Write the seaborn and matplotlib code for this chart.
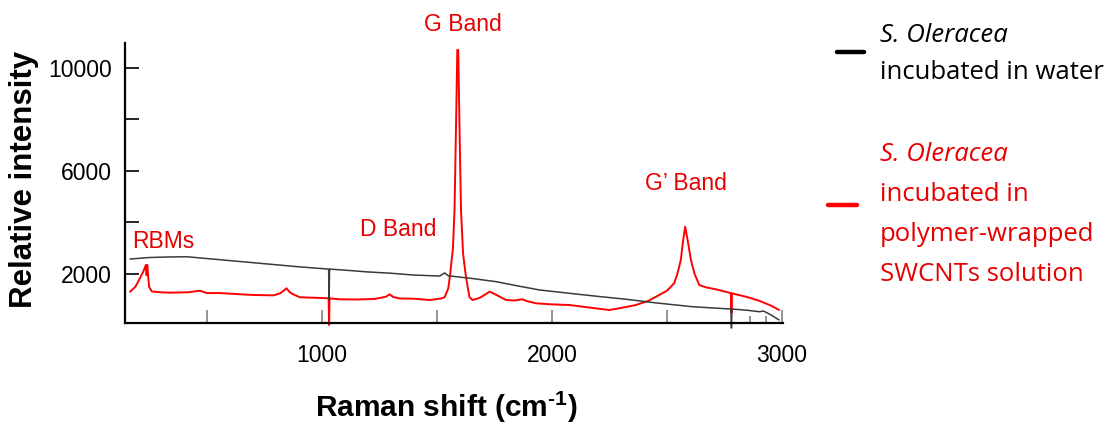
import matplotlib
matplotlib.use('Agg')
import matplotlib.pyplot as plt
from matplotlib.lines import Line2D
import seaborn as sns

# === Spectra (Raman shift in cm-1, relative intensity) ===
water_shift = [167, 250, 330, 414, 500, 600, 701, 800, 900, 1000, 1030, 1032, 1034,
               1100, 1200, 1300, 1400, 1512, 1534, 1550, 1650, 1759, 1850, 1946, 2076,
               2200, 2322, 2450, 2610, 2700, 2778, 2780, 2782, 2850, 2900, 2920, 2950, 2987]
water_int = [2580, 2640, 2660, 2670, 2600, 2520, 2440, 2360, 2280, 2210, 2190, 990, 2190,
             2150, 2080, 2030, 1960, 1920, 2040, 1930, 1830, 1700, 1540, 1380, 1250,
             1130, 1020, 880, 730, 680, 640, -100, 640, 590, 536, 560, 420, 214]

swcnt_shift = [167, 190, 210, 225, 236, 239, 242, 250, 262, 300, 341, 420, 471, 500, 557,
               650, 701, 790, 820, 847, 860, 874, 905, 960, 1030, 1032, 1034, 1078, 1150,
               1230, 1280, 1295, 1310, 1338, 1400, 1469, 1520, 1534, 1550, 1558, 1570,
               1577, 1584, 1589, 1593, 1598, 1605, 1614, 1625, 1635, 1642, 1655, 1685,
               1710, 1729, 1745, 1759, 1801, 1837, 1872, 1890, 1931, 2000, 2076, 2160,
               2249, 2300, 2365, 2420, 2466, 2500, 2531, 2545, 2560, 2570, 2579, 2590,
               2604, 2620, 2640, 2670, 2712, 2760, 2778, 2780, 2782, 2850, 2900, 2950, 2987]
swcnt_int = [1310, 1500, 1830, 2100, 2350, 1950, 2350, 1500, 1320, 1290, 1275, 1290, 1350,
             1260, 1260, 1210, 1185, 1170, 1250, 1445, 1300, 1220, 1095, 1080, 1056, 20,
             1056, 1018, 1010, 1030, 1120, 1212, 1110, 1049, 1040, 990, 1050, 1100, 1450,
             2000, 3000, 4500, 8000, 10700, 10700, 8000, 4500, 2800, 2000, 1450, 1100, 990,
             1068, 1200, 1313, 1250, 1185, 990, 971, 1018, 950, 862, 820, 796, 700, 602,
             680, 796, 960, 1185, 1350, 1639, 2000, 2544, 3300, 3837, 3300, 2544, 2000,
             1573, 1480, 1406, 1300, 1250, 486, 1250, 1100, 963, 780, 602]

x_ticks = [500, 1000, 1500, 2000, 2500, 3000]
x_ticklabels = ['', '1000', '', '2000', '', '3000']
x_minor = [2860, 2930]
y_ticks = [2000, 4000, 6000, 8000, 10000]
y_ticklabels = ['2000', '', '6000', '', '10000']

RED = '#ff0000'
TXT_RED = '#e60000'
W, H = 1114, 425

sns.set_style('ticks')
plt.rcParams['font.family'] = ['Liberation Sans', 'DejaVu Sans']
plt.rcParams['text.color'] = 'black'
plt.rcParams['xtick.color'] = 'black'
plt.rcParams['ytick.color'] = 'black'
plt.rcParams['mathtext.fontset'] = 'custom'
plt.rcParams['mathtext.rm'] = 'Liberation Sans:bold'
plt.rcParams['mathtext.bf'] = 'Liberation Sans:bold'

fig = plt.figure(figsize=(W / 100, H / 100), dpi=100)
ax = fig.add_axes([124.7 / W, 1 - 323 / H, (783 - 124.7) / W, (323 - 43) / H])

sns.lineplot(x=swcnt_shift, y=swcnt_int, ax=ax, color=RED, lw=1.4,
             estimator=None, sort=False)
sns.lineplot(x=water_shift, y=water_int, ax=ax, color='#3a3a3a', lw=1.1,
             estimator=None, sort=False)
for ln in ax.lines:
    ln.set_clip_on(False)

ax.set_xlim(144, 3004)
ax.set_ylim(97, 10970)
ax.set_xticks(x_ticks)
ax.set_xticklabels(x_ticklabels)
ax.set_xticks(x_minor, minor=True)
ax.set_yticks(y_ticks)
ax.set_yticklabels(y_ticklabels)
ax.tick_params(axis='x', which='major', bottom=True, direction='in', length=9.5,
               width=1.1, color='#777777', labelcolor='black', labelsize=16.5, pad=15)
ax.tick_params(axis='x', which='minor', bottom=True, direction='in', length=5,
               width=1.1, color='#777777')
ax.tick_params(axis='y', left=True, direction='in', length=10, width=1.2,
               color='black', labelcolor='black', labelsize=16.5, pad=9)
for s in ['top', 'right']:
    ax.spines[s].set_visible(False)
for s in ['left', 'bottom']:
    ax.spines[s].set_color('black')
    ax.spines[s].set_linewidth(1.6)
ax.set_xlabel('')
ax.set_ylabel('')

# band annotations
ax.text(176, 3243, 'RBMs', color=TXT_RED, fontsize=16.5, ha='left', va='center')
ax.text(1165, 3747, 'D Band', color=TXT_RED, fontsize=16.5, ha='left', va='center')
ax.text(1612, 11707, 'G Band', color=TXT_RED, fontsize=16.5, ha='center', va='center')
ax.text(2581, 5495, 'G\u2019 Band', color=TXT_RED, fontsize=16.5, ha='center', va='center')

# axis titles
fig.text(24 / W, 1 - 179 / H, 'Relative intensity', rotation=90, fontsize=22.5,
         fontweight='bold', ha='center', va='center', color='black')
fig.text(446 / W, 1 - 407 / H, 'Raman shift (cm$^{\\text{-1}}$)', fontsize=21.5,
         fontweight='bold', ha='center', va='center', color='black')

# legend drawn by hand
fig.add_artist(Line2D([837 / W, 864 / W], [1 - 51.7 / H] * 2, color='black', lw=3.2))
fig.add_artist(Line2D([828 / W, 857 / W], [1 - 205 / H] * 2, color=RED, lw=3.2))
leg_font = ['Open Sans', 'DejaVu Sans']
fig.text(880 / W, 1 - 42 / H, 'S. Oleracea', family=leg_font, style='italic',
         fontsize=18.5, va='baseline', color='black')
fig.text(880 / W, 1 - 79 / H, 'incubated in water', family=leg_font,
         fontsize=18.5, va='baseline', color='black')
fig.text(880 / W, 1 - 161 / H, 'S. Oleracea', family=leg_font, style='italic',
         fontsize=18.5, va='baseline', color=TXT_RED)
for i, line in enumerate(['incubated in', 'polymer-wrapped', 'SWCNTs solution']):
    fig.text(880 / W, 1 - (201 + 40 * i) / H, line, family=leg_font,
             fontsize=18.5, va='baseline', color=TXT_RED)

fig.savefig('out.png', dpi=100)
